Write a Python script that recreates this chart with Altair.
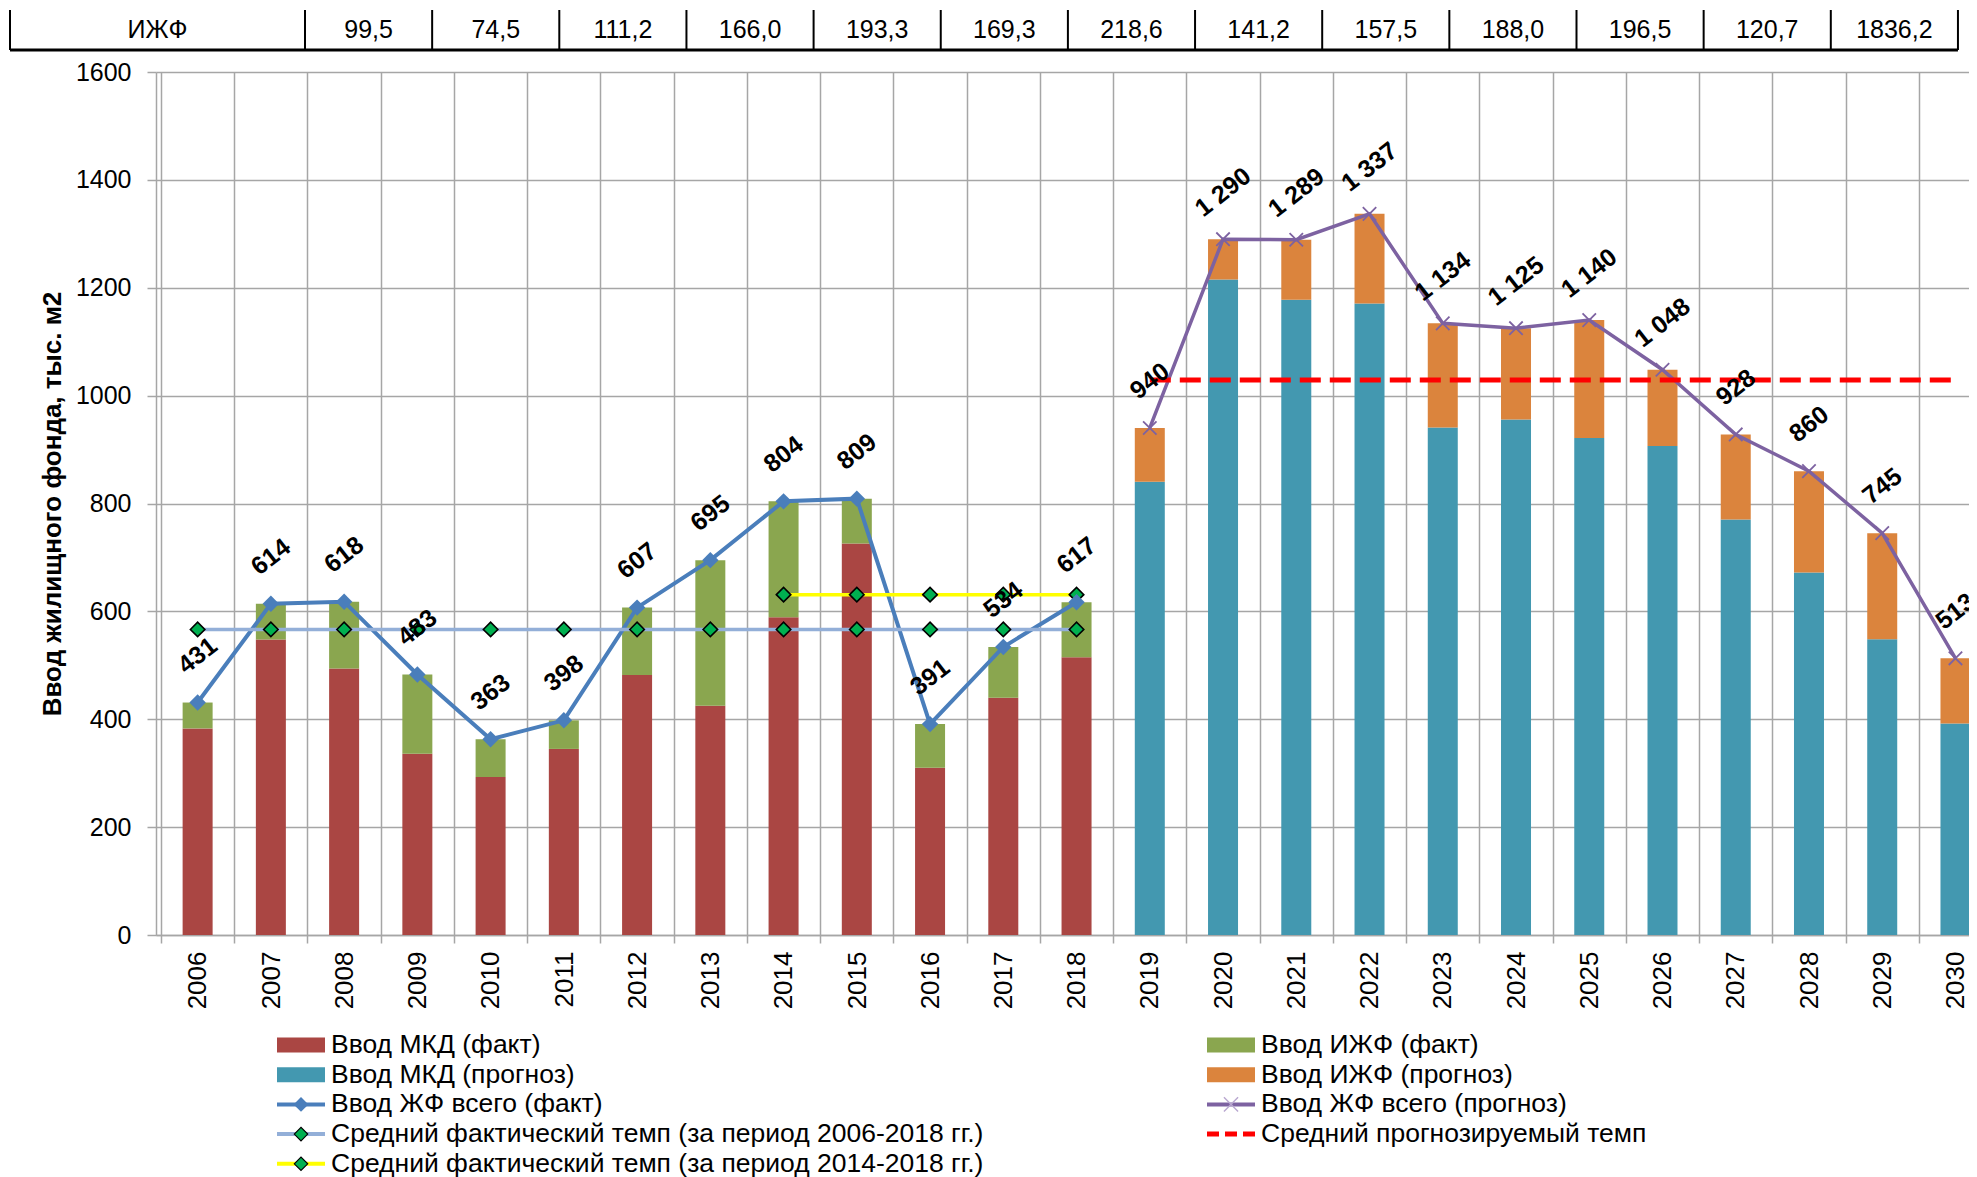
import math
import altair as alt
import pandas as pd

# ---------------- data ----------------
years_fact = list(range(2006, 2019))
years_fc = list(range(2019, 2031))

mkd_fact = [383, 548, 494, 336, 293, 345, 482, 425, 589, 726, 310, 440, 515]
izhf_fact = [48, 66, 124, 147, 70, 53, 125, 270, 215, 83, 81, 94, 102]
total_fact = [431, 614, 618, 483, 363, 398, 607, 695, 804, 809, 391, 534, 617]

mkd_fc = [840.5, 1215.5, 1177.8, 1171.0, 940.7, 955.7, 921.4, 906.8, 770.5, 672.0, 548.5, 392.3]
izhf_fc = [99.5, 74.5, 111.2, 166.0, 193.3, 169.3, 218.6, 141.2, 157.5, 188.0, 196.5, 120.7]
total_fc = [940, 1290, 1289, 1337, 1134, 1125, 1140, 1048, 928, 860, 745, 513]

avg_fact_all = 566.5      # 2006-2018
avg_fact_recent = 631.0   # 2014-2018
avg_fc = 1029.0           # 2019-2030

table_header = "ИЖФ"
table_values = ["99,5", "74,5", "111,2", "166,0", "193,3", "169,3", "218,6",
                "141,2", "157,5", "188,0", "196,5", "120,7", "1836,2"]

S_MKD_F = "Ввод МКД (факт)"
S_IZHF_F = "Ввод ИЖФ (факт)"
S_MKD_P = "Ввод МКД (прогноз)"
S_IZHF_P = "Ввод ИЖФ (прогноз)"
S_TOT_F = "Ввод ЖФ всего (факт)"
S_TOT_P = "Ввод ЖФ всего (прогноз)"
S_AVG_ALL = "Средний фактический темп (за период 2006-2018 гг.)"
S_AVG_REC = "Средний фактический темп (за период 2014-2018 гг.)"
S_AVG_FC = "Средний прогнозируемый темп"

legend_left = [S_MKD_F, S_MKD_P, S_TOT_F, S_AVG_ALL, S_AVG_REC]
legend_right = [S_IZHF_F, S_IZHF_P, S_TOT_P, S_AVG_FC]

# ---------------- styles ----------------
C_MKD_F = "#AA4643"
C_IZHF_F = "#8AA64F"
C_MKD_P = "#4398B0"
C_IZHF_P = "#DB843D"
C_TOT_F = "#4A7EBB"
C_TOT_P = "#7D62A1"
C_AVG_ALL = "#93AFD8"
C_AVG_REC = "#FFFF00"
C_AVG_FC = "#FF0000"
C_DIAM = "#00B050"
GRID = "#A6A6A6"
FONT = "Liberation Sans"
XSHAPE = "M-1,-1L1,1M-1,1L1,-1"

W, H = 1813, 863
PAD_L, PAD_T, PAD_B = 148, 64, 242
BAND = 73.65

# ---------------- tables ----------------
rows = []
for i, y in enumerate(years_fact):
    rows.append(dict(year=y, series=S_MKD_F, value=mkd_fact[i], ord=0))
    rows.append(dict(year=y, series=S_IZHF_F, value=izhf_fact[i], ord=1))
for i, y in enumerate(years_fc):
    rows.append(dict(year=y, series=S_MKD_P, value=mkd_fc[i], ord=0))
    rows.append(dict(year=y, series=S_IZHF_P, value=izhf_fc[i], ord=1))
bars_df = pd.DataFrame(rows)


def fmt(v):
    return f"{v:,}".replace(",", " ")


fact_df = pd.DataFrame(dict(year=years_fact, value=total_fact,
                            label=[fmt(v) for v in total_fact]))
fc_df = pd.DataFrame(dict(year=years_fc, value=total_fc,
                          label=[fmt(v) for v in total_fc]))
labels_df = pd.concat([fact_df, fc_df])
avg_all_df = pd.DataFrame(dict(year=years_fact, value=[avg_fact_all] * len(years_fact)))
yrs_rec = [y for y in years_fact if y >= 2014]
avg_rec_df = pd.DataFrame(dict(year=yrs_rec, value=[avg_fact_recent] * len(yrs_rec)))
avg_fc_df = pd.DataFrame(dict(year=years_fc, value=[avg_fc] * len(years_fc)))

# ---------------- main scales ----------------
xscale = alt.Scale(domain=[2005.5, 2005.5 + W / BAND], nice=False, zero=False)
yscale = alt.Scale(domain=[0, 1600], nice=False, zero=True)

xaxis = alt.Axis(
    values=[2005.5 + i for i in range(25)],
    labelExpr="'' + (datum.value + 0.5)",
    labelOffset=BAND / 2, labelAngle=-90, labelAlign="right", labelBaseline="middle",
    labelPadding=8, labelFont=FONT, labelFontSize=26, labelColor="#000000",
    labelFlush=False, labelOverlap=False,
    tickSize=8, tickColor=GRID, tickWidth=1.5,
    domainColor=GRID, domainWidth=1.5,
    grid=True, gridColor=GRID, gridWidth=1.5, title=None,
)
yaxis = alt.Axis(
    values=list(range(0, 1601, 200)), format="d",
    labelPadding=16, labelFont=FONT, labelFontSize=25, labelColor="#000000",
    labelFlush=False,
    tickSize=9, tickColor=GRID, tickWidth=1.5,
    domainColor=GRID, domainWidth=1.5,
    grid=True, gridColor=GRID, gridWidth=1.5,
    title="Ввод жилищного фонда, тыс. м2", titleFont=FONT, titleFontSize=26,
    titleFontWeight="bold", titleColor="#000000", titlePadding=10,
)


def X():
    return alt.X("year:Q", scale=xscale, axis=xaxis)


def Y(stack=None):
    if stack:
        return alt.Y("value:Q", scale=yscale, axis=yaxis, stack=stack)
    return alt.Y("value:Q", scale=yscale, axis=yaxis)


bars = alt.Chart(bars_df).mark_bar(size=30).encode(
    x=X(), y=Y("zero"),
    color=alt.Color("series:N", legend=None,
                    scale=alt.Scale(domain=[S_MKD_F, S_IZHF_F, S_MKD_P, S_IZHF_P],
                                    range=[C_MKD_F, C_IZHF_F, C_MKD_P, C_IZHF_P])),
    order=alt.Order("ord:Q"),
)

fact_line = alt.Chart(fact_df).mark_line(color=C_TOT_F, strokeWidth=4).encode(x=X(), y=Y())
fact_pts = alt.Chart(fact_df).mark_point(shape="diamond", filled=True, color=C_TOT_F,
                                         size=270, opacity=1).encode(x=X(), y=Y())

DIAM = dict(shape="diamond", filled=True, fill=C_DIAM, stroke="#000000",
            strokeWidth=1.6, size=210, opacity=1)
avg_all_line = alt.Chart(avg_all_df).mark_line(color=C_AVG_ALL, strokeWidth=3.5).encode(x=X(), y=Y())
avg_all_pts = alt.Chart(avg_all_df).mark_point(**DIAM).encode(x=X(), y=Y())
avg_rec_line = alt.Chart(avg_rec_df).mark_line(color=C_AVG_REC, strokeWidth=3.5).encode(x=X(), y=Y())
avg_rec_pts = alt.Chart(avg_rec_df).mark_point(**DIAM).encode(x=X(), y=Y())

fc_line = alt.Chart(fc_df).mark_line(color=C_TOT_P, strokeWidth=3.5).encode(x=X(), y=Y())
fc_pts = alt.Chart(fc_df).mark_point(shape=XSHAPE, filled=False, color=C_TOT_P, size=180,
                                     strokeWidth=1.8, opacity=1).encode(x=X(), y=Y())

avg_fc_line = alt.Chart(avg_fc_df).mark_line(color=C_AVG_FC, strokeWidth=5,
                                             strokeDash=[21, 9]).encode(x=X(), y=Y())

LBL_ANGLE = 38
LBL_DIST = 47
ldx = LBL_DIST * math.sin(math.radians(LBL_ANGLE))
ldy = -LBL_DIST * math.cos(math.radians(LBL_ANGLE))
labels = alt.Chart(labels_df).mark_text(
    angle=360 - LBL_ANGLE, dx=ldx, dy=ldy, align="center", baseline="middle",
    font=FONT, fontSize=25, fontWeight="bold", color="#000000",
).encode(x=X(), y=Y(), text="label:N")

main = alt.layer(bars, fact_line, avg_all_line, avg_rec_line, avg_all_pts, avg_rec_pts,
                 fact_pts, fc_line, fc_pts, avg_fc_line, labels)

# ---------------- top table ----------------
T_COL0 = 149.0     # left edge of first value column (plot px)
T_COLW = 127.15    # value column width
T_HDR = 295.0      # header column width
T_BOTTOM, T_HEIGHT = -22.0, 40.0
tx_scale = alt.Scale(domain=[(0 - T_COL0) / T_COLW, (W - T_COL0) / T_COLW], nice=False, zero=False)
ty_scale = alt.Scale(domain=[(T_BOTTOM - H) / T_HEIGHT, T_BOTTOM / T_HEIGHT], nice=False, zero=False)
hdr_left = -T_HDR / T_COLW

cells = pd.DataFrame(dict(
    text=[table_header] + table_values,
    cx=[hdr_left / 2] + [k + 0.5 for k in range(len(table_values))],
    cy=[0.5] * (len(table_values) + 1),
))
vlines = pd.DataFrame(dict(bx=[hdr_left] + list(range(len(table_values) + 1)),
                           b0=0.0, b1=1.0))
hline = pd.DataFrame(dict(bx=[hdr_left], bx2=[len(table_values)], b0=[0.0]))

TX = lambda f: alt.X(f, scale=tx_scale, axis=None)
TY = lambda f: alt.Y(f, scale=ty_scale, axis=None)

t_v = alt.Chart(vlines).mark_rule(color="#000000", strokeWidth=2).encode(
    x=TX("bx:Q"), y=TY("b0:Q"), y2="b1:Q")
t_h = alt.Chart(hline).mark_rule(color="#000000", strokeWidth=3).encode(
    x=TX("bx:Q"), x2="bx2:Q", y=TY("b0:Q"))
t_txt = alt.Chart(cells).mark_text(font=FONT, fontSize=25, color="#000000",
                                   align="center", baseline="middle").encode(
    x=TX("cx:Q"), y=TY("cy:Q"), text="text:N")
table = alt.layer(t_v, t_h, t_txt)

# ---------------- legend ----------------
L_X0, L_COLGAP = 121.0, 930.0
L_Y0, L_ROW = 973.0, 29.7
SW = 48
lx_scale = alt.Scale(domain=[(0 - L_X0) / L_COLGAP, (W - L_X0) / L_COLGAP], nice=False, zero=False)
ly_scale = alt.Scale(domain=[(0 - L_Y0) / L_ROW, (H - L_Y0) / L_ROW], nice=False, zero=False,
                     reverse=True)

kind = {S_MKD_F: "rect", S_MKD_P: "rect", S_IZHF_F: "rect", S_IZHF_P: "rect",
        S_TOT_F: "line_d", S_TOT_P: "line_x", S_AVG_ALL: "line_g", S_AVG_REC: "line_g",
        S_AVG_FC: "dash"}
colour = {S_MKD_F: C_MKD_F, S_MKD_P: C_MKD_P, S_IZHF_F: C_IZHF_F, S_IZHF_P: C_IZHF_P,
          S_TOT_F: C_TOT_F, S_TOT_P: C_TOT_P, S_AVG_ALL: C_AVG_ALL, S_AVG_REC: C_AVG_REC,
          S_AVG_FC: C_AVG_FC}
lrows = [dict(label=l, col=0, row=r) for r, l in enumerate(legend_left)] + \
        [dict(label=l, col=1, row=r) for r, l in enumerate(legend_right)]
leg = pd.DataFrame(lrows)
leg["kind"] = leg["label"].map(kind)
leg["color"] = leg["label"].map(colour)

LX = lambda: alt.X("col:Q", scale=lx_scale, axis=None)
LY = lambda: alt.Y("row:Q", scale=ly_scale, axis=None)
CI = alt.Color("color:N", scale=None)

base = alt.Chart(leg)
l_rect = base.transform_filter("datum.kind == 'rect'").mark_rule(
    strokeWidth=15, x2Offset=SW).encode(x=LX(), x2="col:Q", y=LY(), color=CI)
l_line = base.transform_filter(
    "datum.kind == 'line_d' || datum.kind == 'line_x' || datum.kind == 'line_g'").mark_rule(
    strokeWidth=4, x2Offset=SW).encode(x=LX(), x2="col:Q", y=LY(), color=CI)
l_dash = base.transform_filter("datum.kind == 'dash'").mark_rule(
    strokeWidth=5, x2Offset=SW, strokeDash=[12, 6]).encode(x=LX(), x2="col:Q", y=LY(), color=CI)
l_d = base.transform_filter("datum.kind == 'line_d'").mark_point(
    shape="diamond", filled=True, size=220, xOffset=SW / 2, opacity=1).encode(x=LX(), y=LY(), color=CI)
l_g = base.transform_filter("datum.kind == 'line_g'").mark_point(
    shape="diamond", filled=True, fill=C_DIAM, stroke="#000000", strokeWidth=1.2, size=180,
    xOffset=SW / 2, opacity=1).encode(x=LX(), y=LY())
l_x = base.transform_filter("datum.kind == 'line_x'").mark_point(
    shape=XSHAPE, filled=False, size=200, strokeWidth=1.4, xOffset=SW / 2, opacity=1,
    color="#B9A7D0").encode(x=LX(), y=LY())
l_txt = base.mark_text(align="left", baseline="middle", dx=SW + 6, font=FONT, fontSize=26.5,
                       color="#000000").encode(x=LX(), y=LY(), text="label:N")
legend = alt.layer(l_rect, l_line, l_dash, l_d, l_g, l_x, l_txt)

chart = alt.layer(main, table, legend).resolve_scale(
    x="independent", y="independent", color="independent"
).properties(
    width=W, height=H,
    autosize=alt.AutoSizeParams(type="none"),
    padding={"left": PAD_L, "top": PAD_T, "right": 0, "bottom": PAD_B},
    background="#FFFFFF",
).configure_view(stroke=None)

chart.save("out.html", embed_options={"renderer": "svg", "actions": False})
